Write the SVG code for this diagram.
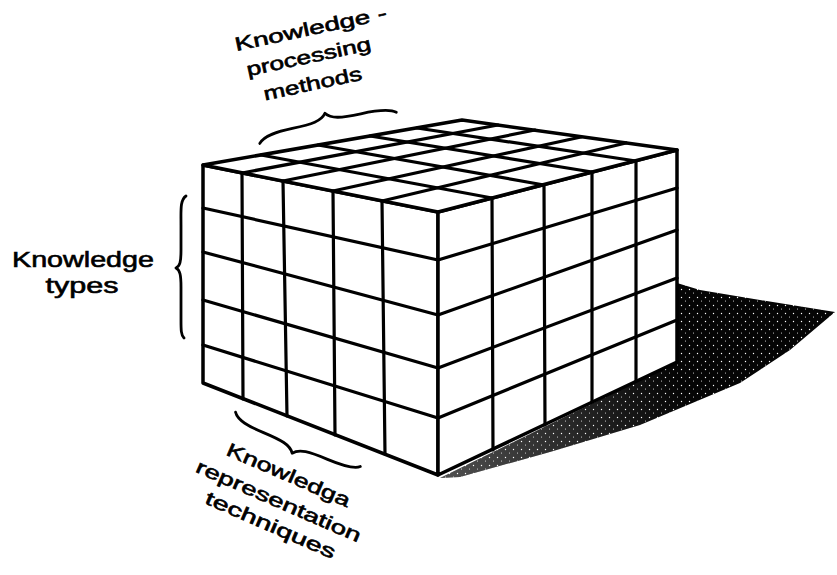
<svg xmlns="http://www.w3.org/2000/svg" width="837" height="575" viewBox="0 0 837 575">
<style>
.face{fill:#fff;stroke:#000;stroke-width:3.5;stroke-linejoin:round}
.g{fill:none;stroke:#000;stroke-width:3.2;stroke-linecap:round}
.brace{fill:none;stroke:#000;stroke-width:2.8;stroke-linecap:round;stroke-linejoin:round}
.lbl{font-family:"Liberation Sans",Arial,sans-serif;fill:#000;stroke:#000;stroke-width:0.6;text-anchor:middle}
</style>
<defs>
<pattern id="stip" width="8" height="8" patternUnits="userSpaceOnUse">
<rect width="8" height="8" fill="#050505"/>
<circle cx="1.5" cy="1.5" r="0.7" fill="#fff"/>
<circle cx="5.5" cy="5" r="0.5" fill="#fff"/>
</pattern>
<linearGradient id="fade" x1="440" y1="470" x2="680" y2="380" gradientUnits="userSpaceOnUse">
<stop offset="0" stop-color="#fff" stop-opacity="0.3"/>
<stop offset="0.6" stop-color="#fff" stop-opacity="0.12"/>
<stop offset="1" stop-color="#fff" stop-opacity="0"/>
</linearGradient>
</defs>
<rect width="837" height="575" fill="#fff"/>
<g id="shadow">
<polygon points="440,478 677,362 677,283 700,290 760,300 835,312 790,350 740,383 640,425 550,452 460,477" fill="url(#stip)"/>
<polygon points="440,478 677,362 677,283 700,290 760,300 835,312 790,350 740,383 640,425 550,452 460,477" fill="url(#fade)"/>
</g>
<g id="cube">
<polygon class="face" points="203,165 438,212 438,475 203,383"/>
<polygon class="face" points="438,212 677,150 677,362 438,475"/>
<polygon class="face" points="203,165 462,120 677,150 438,212"/>
<g id="left-face-grid">
<line class="g" x1="242" y1="173" x2="243" y2="399"/>
<line class="g" x1="283" y1="181" x2="287" y2="416"/>
<line class="g" x1="333" y1="191" x2="335" y2="435"/>
<line class="g" x1="382" y1="201" x2="385" y2="454"/>
<line class="g" x1="203" y1="208" x2="438" y2="260"/>
<line class="g" x1="203" y1="252" x2="438" y2="315"/>
<line class="g" x1="203" y1="300" x2="438" y2="368"/>
<line class="g" x1="203" y1="345" x2="438" y2="418"/>
</g>
<g id="right-face-grid">
<line class="g" x1="492" y1="198" x2="493" y2="450"/>
<line class="g" x1="544" y1="185" x2="545" y2="425"/>
<line class="g" x1="592" y1="172" x2="592" y2="402"/>
<line class="g" x1="636" y1="161" x2="636" y2="381"/>
<line class="g" x1="438" y1="260" x2="677" y2="188"/>
<line class="g" x1="438" y1="315" x2="677" y2="230"/>
<line class="g" x1="438" y1="368" x2="677" y2="278"/>
<line class="g" x1="438" y1="418" x2="677" y2="320"/>
</g>
<g id="top-face-grid">
<line class="g" x1="242" y1="173" x2="498" y2="125"/>
<line class="g" x1="283" y1="181" x2="535" y2="130"/>
<line class="g" x1="333" y1="191" x2="581" y2="137"/>
<line class="g" x1="382" y1="201" x2="626" y2="143"/>
<line class="g" x1="492" y1="198" x2="261" y2="155"/>
<line class="g" x1="544" y1="185" x2="318" y2="145"/>
<line class="g" x1="592" y1="172" x2="370" y2="136"/>
<line class="g" x1="636" y1="161" x2="417" y2="128"/>
</g>
</g>
<g id="label-methods">
<path class="brace" transform="translate(327,123) rotate(-12)" d="M-70,6 C-64,-1 -50,-2 -35,-2 C-15,-2 -5,-3 0,-10 C5,-3 15,-2 35,-2 C50,-2 64,-1 70,4"/>
<text class="lbl" font-size="19" transform="translate(312,35) rotate(-12)" textLength="155" lengthAdjust="spacingAndGlyphs">Knowledge -</text>
<text class="lbl" font-size="19" transform="translate(310,63) rotate(-12)" textLength="127" lengthAdjust="spacingAndGlyphs">processing</text>
<text class="lbl" font-size="19" transform="translate(314,90) rotate(-12)" textLength="100" lengthAdjust="spacingAndGlyphs">methods</text>
</g>
<g id="label-types">
<path class="brace" d="M186,196 C180,200 181,210 181,225 L181,250 C181,262 180,266 176,268 C180,270 181,275 181,287 L181,320 C181,330 181,335 184,338"/>
<text class="lbl" font-size="22" x="83" y="267" textLength="142" lengthAdjust="spacingAndGlyphs">Knowledge</text>
<text class="lbl" font-size="22" x="82" y="293" textLength="73" lengthAdjust="spacingAndGlyphs">types</text>
</g>
<g id="label-techniques">
<path class="brace" transform="translate(296,444) rotate(22.7)" d="M-68,-6 C-63,1 -50,2 -35,2 C-15,2 -5,3 0,10 C5,3 15,2 35,2 C50,2 63,1 68,-4"/>
<text class="lbl" font-size="19" transform="translate(286,481) rotate(23.5)" textLength="133" lengthAdjust="spacingAndGlyphs">Knowledga</text>
<text class="lbl" font-size="19" transform="translate(276,507) rotate(23.5)" textLength="178" lengthAdjust="spacingAndGlyphs">representation</text>
<text class="lbl" font-size="19" transform="translate(268,531) rotate(23.5)" textLength="140" lengthAdjust="spacingAndGlyphs">techniques</text>
</g>
</svg>
